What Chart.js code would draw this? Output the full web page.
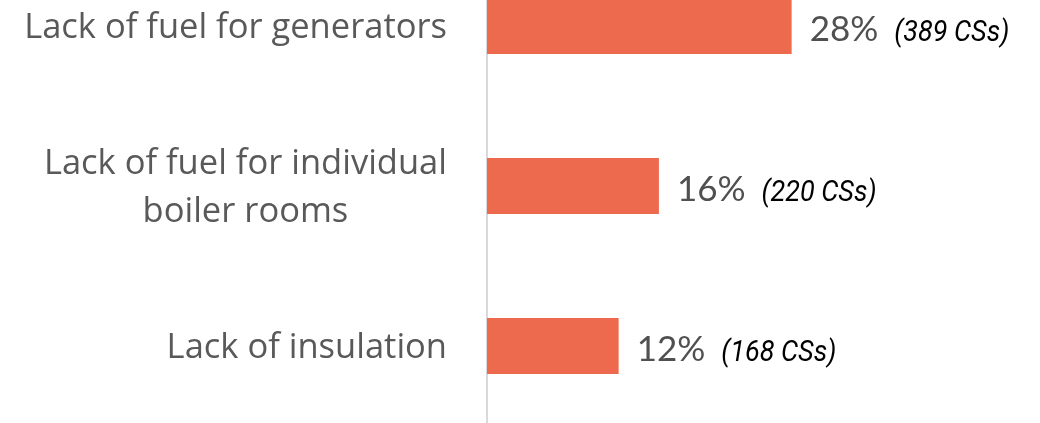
<!DOCTYPE html>
<html>
<head>
<meta charset="utf-8">
<script src="https://cdn.jsdelivr.net/npm/chart.js@4.4.0/dist/chart.umd.min.js"></script>
<style>
  html, body { margin: 0; padding: 0; background: #fff; overflow: hidden; }
  #wrap { position: absolute; left: 0; top: -54px; width: 1040px; height: 480px; }
</style>
</head>
<body>
<div id="wrap"><canvas id="chart"></canvas></div>
<script>
// categories (multi-line labels as arrays)
const categories = [
  ["Lack of fuel for generators"],
  ["Lack of fuel for individual", "boiler rooms"],
  ["Lack of insulation"],
];
// share of collective sites, %
const shares = [28.0, 15.8, 12.1];
// number of collective sites
const siteCounts = [389, 220, 168];

// y labels: block right-aligned to the axis, lines centred inside the block
const categoryLabels = {
  id: "categoryLabels",
  afterDraw(chart) {
    const ctx = chart.ctx;
    const yScale = chart.scales.y;
    const right = chart.chartArea.left - 40;
    const lineHeight = 48;
    ctx.save();
    ctx.font = "34.5px 'Open Sans'";
    ctx.fillStyle = "#595959";
    ctx.textAlign = "center";
    ctx.textBaseline = "alphabetic";
    categories.forEach((lines, i) => {
      const w = Math.max(...lines.map((l) => ctx.measureText(l).width));
      const cx = right - w / 2;
      const cy = yScale.getPixelForTick(i) + 12;
      lines.forEach((line, j) => {
        ctx.fillText(line, cx, cy + (j - (lines.length - 1) / 2) * lineHeight);
      });
    });
    ctx.restore();
  },
};

// "28%  (389 CSs)" after each bar
const valueLabels = {
  id: "valueLabels",
  afterDatasetsDraw(chart) {
    const ctx = chart.ctx;
    const bars = chart.getDatasetMeta(0).data;
    ctx.save();
    ctx.textAlign = "left";
    ctx.textBaseline = "alphabetic";
    bars.forEach((bar, i) => {
      const x = bar.x + 18;
      const y = bar.y + 15;
      const pct = Math.round(shares[i]) + "%";
      ctx.font = "35px Lato";
      ctx.fillStyle = "#505050";
      ctx.fillText(pct, x, y);
      const w = ctx.measureText(pct).width;
      // condensed italic: squeeze Roboto italic horizontally
      ctx.save();
      ctx.translate(x + w + 16, y);
      ctx.scale(0.9, 1);
      ctx.font = "italic 30px Roboto";
      ctx.fillStyle = "#000";
      ctx.fillText("(" + siteCounts[i] + " CSs)", 0, 0);
      ctx.restore();
    });
    ctx.restore();
  },
};

const ctx = document.getElementById("chart").getContext("2d");
new Chart(ctx, {
  type: "bar",
  data: {
    labels: categories,
    datasets: [
      {
        data: shares,
        backgroundColor: "#ED6A4E",
        barPercentage: 0.35,
        categoryPercentage: 1,
      },
    ],
  },
  options: {
    indexAxis: "y",
    responsive: true,
    maintainAspectRatio: false,
    animation: false,
    layout: { padding: { top: 0, bottom: 0, left: 0, right: 9 } },
    plugins: {
      legend: { display: false },
      tooltip: { enabled: false },
    },
    scales: {
      x: { display: false, min: 0, max: 50 },
      y: {
        grid: { display: false },
        border: { display: true, color: "#D9D9D9", width: 2 },
        ticks: { display: false },
        afterFit: (scale) => {
          scale.width = 487;
        },
      },
    },
  },
  plugins: [categoryLabels, valueLabels],
});
</script>
</body>
</html>
